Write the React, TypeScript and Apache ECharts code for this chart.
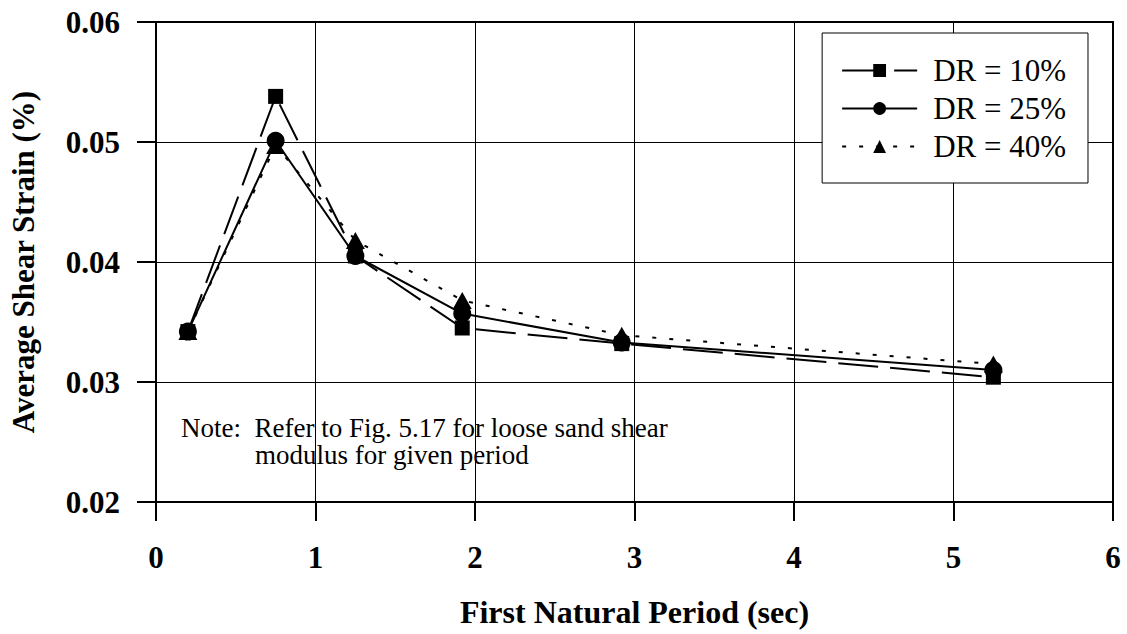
import React, { useEffect, useRef } from "react";
import * as echarts from "echarts";

const periods10 = [0.2, 0.75, 1.25, 1.92, 2.92, 5.25];
const strain10 = [0.0342, 0.0538, 0.0405, 0.0345, 0.0332, 0.0304];
const periods25 = [0.2, 0.75, 1.25, 1.92, 2.92, 5.25];
const strain25 = [0.0342, 0.0501, 0.0405, 0.0357, 0.0333, 0.031];
const periods40 = [0.2, 0.75, 1.25, 1.92, 2.92, 5.25];
const strain40 = [0.0342, 0.0497, 0.0418, 0.0368, 0.0339, 0.0315];
const seriesNames = ["DR = 10%", "DR = 25%", "DR = 40%"];
const noteLine1 = "Note:  Refer to Fig. 5.17 for loose sand shear";
const noteLine2 = "modulus for given period";

const FONT = "'Liberation Serif', 'Times New Roman', serif";

function pairs(xs: number[], ys: number[]) {
  return xs.map((x, i) => [x, ys[i]]);
}

export default function App() {
  const ref = useRef<HTMLDivElement>(null);
  useEffect(() => {
    if (!ref.current) return;
    const chart = echarts.init(ref.current, null, { renderer: "svg" });
    chart.setOption({
      animation: false,
      backgroundColor: "#fff",
      grid: {
        left: 156,
        right: 14,
        top: 22,
        bottom: 132,
        show: true,
        borderColor: "#000",
        borderWidth: 2,
      },
      legend: {
        data: seriesNames,
        orient: "vertical",
        right: 39,
        top: 33,
        padding: [22, 22, 21, 19],
        itemGap: 7,
        itemWidth: 75,
        itemHeight: 16,
        borderColor: "#000",
        borderWidth: 1,
        backgroundColor: "#fff",
        textStyle: {
          fontFamily: FONT,
          fontSize: 31,
          lineHeight: 31,
          color: "#000",
          padding: [0, 0, 0, 11],
        },
      },
      xAxis: {
        type: "value",
        min: 0,
        max: 6,
        interval: 1,
        name: "First Natural Period (sec)",
        nameLocation: "middle",
        nameGap: 94,
        nameTextStyle: { fontFamily: FONT, fontSize: 32, fontWeight: "bold", color: "#000" },
        axisLine: { show: true, lineStyle: { color: "#000", width: 2 } },
        axisTick: { show: true, length: 19, lineStyle: { color: "#000", width: 2 } },
        axisLabel: { margin: 40, fontFamily: FONT, fontSize: 31, fontWeight: "bold", color: "#000" },
        splitLine: { show: true, lineStyle: { color: "#000", width: 1 } },
      },
      yAxis: {
        type: "value",
        min: 0.02,
        max: 0.06,
        interval: 0.01,
        name: "Average Shear Strain (%)",
        nameLocation: "middle",
        nameGap: 117,
        nameTextStyle: { fontFamily: FONT, fontSize: 31, fontWeight: "bold", color: "#000" },
        axisLine: { show: true, lineStyle: { color: "#000", width: 2 } },
        axisTick: { show: true, length: 19, lineStyle: { color: "#000", width: 2 } },
        axisLabel: {
          margin: 36,
          fontFamily: FONT,
          fontSize: 31,
          fontWeight: "bold",
          color: "#000",
          formatter: (v: number) => v.toFixed(2),
        },
        splitLine: { show: true, lineStyle: { color: "#000", width: 1 } },
      },
      series: [
        {
          name: seriesNames[0],
          type: "line",
          data: pairs(periods10, strain10),
          symbol: "rect",
          symbolSize: 15,
          itemStyle: { color: "#000" },
          lineStyle: { color: "#000", width: 2, type: [40, 12] },
          z: 3,
        },
        {
          name: seriesNames[1],
          type: "line",
          data: pairs(periods25, strain25),
          symbol: "circle",
          symbolSize: 18,
          itemStyle: { color: "#000" },
          lineStyle: { color: "#000", width: 2, type: "solid" },
          z: 4,
        },
        {
          name: seriesNames[2],
          type: "line",
          data: pairs(periods40, strain40),
          symbol: "triangle",
          symbolSize: [19, 17],
          itemStyle: { color: "#000" },
          lineStyle: { color: "#000", width: 2, type: [4, 13] },
          z: 5,
        },
      ],
      graphic: [
        {
          type: "text",
          left: 181,
          top: 414,
          style: { text: noteLine1, fontFamily: FONT, fontSize: 27, lineHeight: 26, fill: "#000" },
        },
        {
          type: "text",
          left: 255,
          top: 441,
          style: { text: noteLine2, fontFamily: FONT, fontSize: 27, lineHeight: 26, fill: "#000" },
        },
      ],
    });
    return () => chart.dispose();
  }, []);
  return <div ref={ref} style={{ width: 1127, height: 634, position: "absolute", left: 0, top: 0 }} />;
}
